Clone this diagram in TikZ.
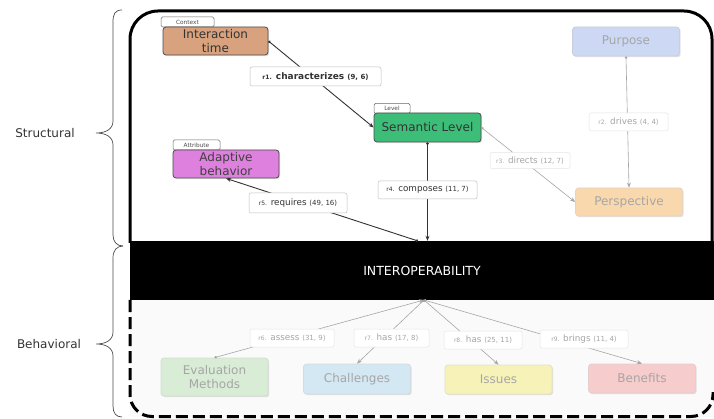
\documentclass[tikz,border=0pt]{standalone}
\usepackage{fontspec}
\setmainfont{DejaVu Sans}
\usetikzlibrary{arrows.meta,shadows}

\definecolor{itfill}{RGB}{216,162,126}
\definecolor{slfill}{RGB}{60,190,120}
\definecolor{abfill}{RGB}{222,128,222}
\definecolor{pufill}{RGB}{204,216,244}
\definecolor{pefill}{RGB}{250,216,174}
\definecolor{emfill}{RGB}{216,236,214}
\definecolor{chfill}{RGB}{212,232,244}
\definecolor{isfill}{RGB}{247,243,184}
\definecolor{befill}{RGB}{247,204,204}
\definecolor{bgbeh}{RGB}{250,250,250}

\newcommand{\rsm}[1]{{\fontsize{6}{7}\selectfont #1}}
\newcommand{\rnum}[1]{{\fontsize{7}{8}\selectfont #1}}

\tikzset{
  box/.style={rectangle, rounded corners=3pt, minimum height=28pt, minimum width=107pt,
    align=center, font=\fontsize{12}{13.5}\selectfont, line width=0.8pt, inner ysep=1pt,
    drop shadow={shadow xshift=1.2pt, shadow yshift=-1.2pt, opacity=0.22}},
  darkbox/.style={box, draw=black!70, text=black!80},
  lbl/.style={rectangle, rounded corners=2pt, fill=white, draw=black!25, line width=0.5pt,
    minimum height=18pt, inner xsep=2pt, font=\fontsize{8.8}{10}\selectfont, text=black!80},
  flbl/.style={lbl, draw=black!10, text=black!35},
  tagbox/.style={rectangle, rounded corners=1.5pt, fill=white, draw=black!60, line width=0.5pt,
    inner sep=0pt, minimum height=10pt, font=\fontsize{5.8}{6}\selectfont, text=black!70},
  conn/.style={draw=black!80, line width=0.9pt, {Circle[length=2.5pt]}-{Stealth[length=5pt,width=4pt]}},
  fconn/.style={draw=black!35, line width=0.6pt, {Circle[length=2.5pt]}-{Stealth[length=5pt,width=4pt]}},
  bracestyle/.style={draw=black!70, line width=0.7pt},
  sidelbl/.style={font=\fontsize{12}{14}\selectfont, text=black!80},
}

\begin{document}
\begin{tikzpicture}[x=1pt,y=-1pt]
\useasboundingbox (0,0) rectangle (714,419);
\fill[white] (0,0) rectangle (714,419);

% behavioral background
\fill[bgbeh] (130,300) rectangle (714,417);

% frame
\draw[line width=3pt, rounded corners=28pt] (130,243) -- (130,11) -- (712,11) -- (712,243);
\draw[line width=3pt, dash pattern=on 12pt off 5pt, rounded corners=22pt]
  (130,300) -- (130,416.5) -- (713,416.5) -- (713,392);

% band
\node[fill=black, minimum width=584pt, minimum height=59pt, inner sep=0pt, text=white,
  font=\fontsize{12.5}{14}\selectfont] (band) at (422,270.5) {INTEROPERABILITY};

% braces
\draw[bracestyle] (122,10) .. controls (115,10) and (113,14) .. (113,22) -- (113,121)
  .. controls (113,129) and (106,133) .. (96,133) .. controls (106,133) and (113,137) .. (113,145)
  -- (113,235) .. controls (113,242) and (117,246) .. (123,246);
\draw[bracestyle] (123,246) .. controls (117,246) and (113,250) .. (113,258) -- (113,332)
  .. controls (113,340) and (106,344) .. (96,344) .. controls (106,344) and (113,348) .. (113,356)
  -- (113,406) .. controls (113,413) and (116,417) .. (122,417);
\node[sidelbl] (lstr) at (45,133) {Structural};
\node[sidelbl] (lbeh) at (49,344) {Behavioral};

% tags
\node[tagbox, minimum width=53pt] (tctx) at (187.5,22) {Context};
\node[tagbox, minimum width=36pt] (tlev) at (392,108.5) {Level};
\node[tagbox, minimum width=47pt] (tatt) at (196.5,145) {Attribute};

% nodes
\node[darkbox, fill=itfill, minimum width=105pt] (it) at (215.5,41) {Interaction\\time};
\node[darkbox, fill=slfill, minimum width=107pt, minimum height=29pt] (sl) at (427.5,127.5) {Semantic Level};
\node[darkbox, fill=abfill, minimum width=106pt, text=black!75] (ab) at (226,164) {Adaptive\\behavior};
\node[box, fill=pufill, draw=pufill!80!black!60, text=black!35, minimum height=29pt] (pu) at (626,41.5) {Purpose};
\node[box, fill=pefill, draw=pefill!85!black!60, text=black!35] (pe) at (629,202) {Perspective};
\node[box, fill=emfill, draw=emfill!85!black!60, text=black!35, minimum height=38pt] (em) at (214.5,377) {Evaluation\\Methods};
\node[box, fill=chfill, draw=chfill!85!black!60, text=black!35, minimum height=30pt] (ch) at (357,379) {Challenges};
\node[box, fill=isfill, draw=isfill!85!black!60, text=black!35, minimum height=29pt] (is) at (498.5,379.5) {Issues};
\node[box, fill=befill, draw=befill!85!black!60, text=black!35, minimum height=29pt] (be) at (642,378.5) {Benefits};

% hub coordinates on the band
\coordinate (htop) at (418,241);
\coordinate (hbot) at (424,300);

% connectors
\draw[conn] (it.east) -- (sl.west);
\draw[fconn] (pu.south) -- (pe.north);
\draw[fconn] (sl.east) -- (pe.west);
\draw[conn] (sl.south) -- (sl.south |- band.north);
\draw[conn] (htop) -- (ab.south);
\draw[fconn] (em.north) -- (hbot);
\draw[fconn] (hbot) -- (ch.north);
\draw[fconn] (hbot) -- (is.north);
\draw[fconn] (hbot) -- (be.north);

% labels
\node[lbl, minimum width=131pt, minimum height=19pt, font=\bfseries\fontsize{9}{10}\selectfont] (l1) at (315.5,76.5) {\rsm{r1.} characterizes \rnum{(9, 6)}};
\node[flbl, minimum width=79pt] (l2) at (628.5,122) {\rsm{r2.} drives \rnum{(4, 4)}};
\node[flbl, minimum width=80pt, minimum height=16pt] (l3) at (530,160.5) {\rsm{r3.} directs \rnum{(12, 7)}};
\node[lbl, minimum width=99pt] (l4) at (427.5,190) {\rsm{r4.} composes \rnum{(11, 7)}};
\node[lbl, minimum width=98pt, minimum height=20pt] (l5) at (298,203) {\rsm{r5.} requires \rnum{(49, 16)}};
\node[flbl, minimum width=84pt] (l6) at (292,338) {\rsm{r6.} assess \rnum{(31, 9)}};
\node[flbl, minimum width=75pt] (l7) at (391.5,338) {\rsm{r7.} has \rnum{(17, 8)}};
\node[flbl, minimum width=78pt] (l8) at (483,340) {\rsm{r8.} has \rnum{(25, 11)}};
\node[flbl, minimum width=88pt] (l9) at (584,339) {\rsm{r9.} brings \rnum{(11, 4)}};
\end{tikzpicture}
\end{document}
